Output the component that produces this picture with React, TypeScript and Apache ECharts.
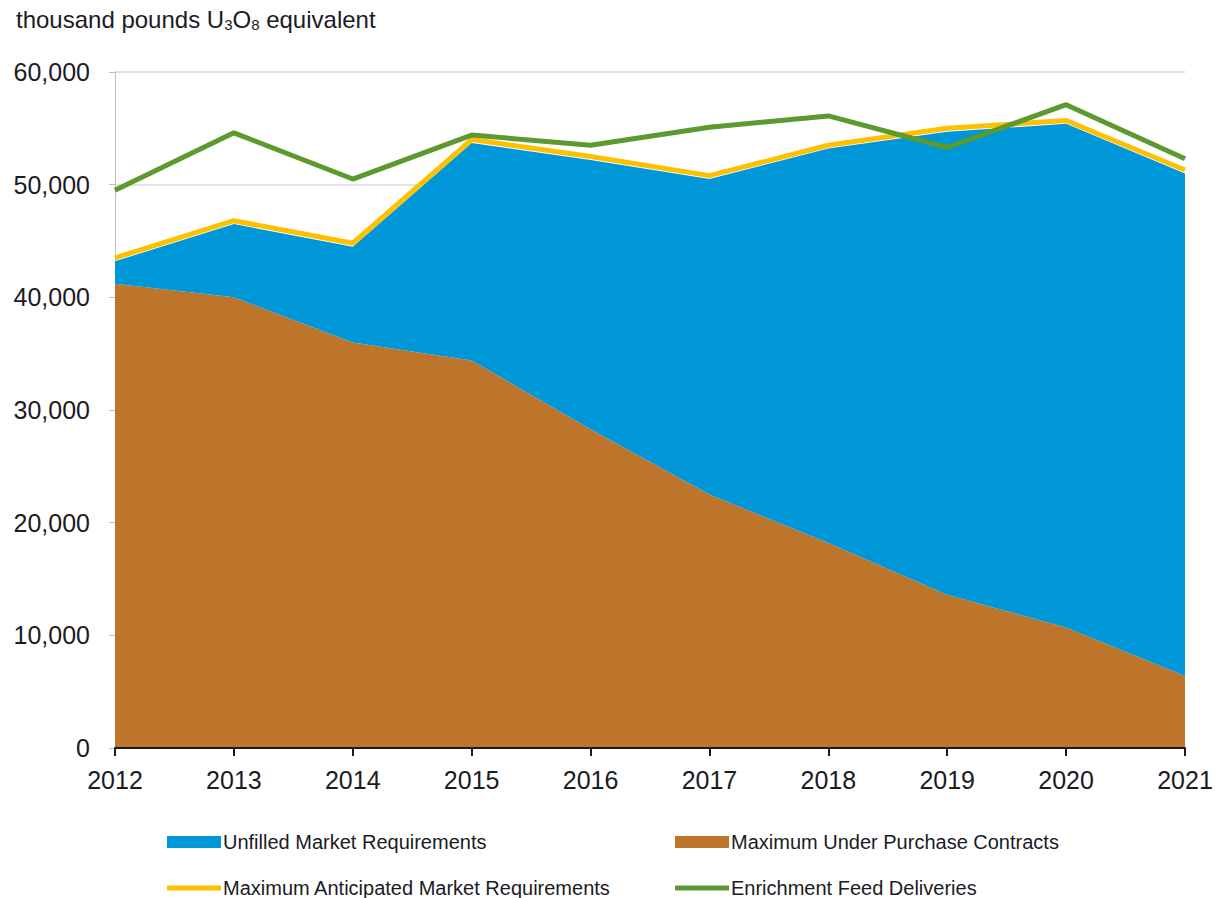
import React, { useEffect, useRef } from "react";
import * as echarts from "echarts";

const years = ["2012", "2013", "2014", "2015", "2016", "2017", "2018", "2019", "2020", "2021"];
const maxUnderPurchase = [41200, 40000, 36000, 34400, 28300, 22500, 18200, 13600, 10700, 6400];
const unfilled = [2000, 6500, 8500, 19300, 23900, 28000, 35000, 41100, 44700, 44600];
const maxAnticipated = [43500, 46800, 44800, 54000, 52500, 50800, 53500, 55000, 55700, 51300];
const enrichmentFeed = [49500, 54600, 50500, 54400, 53500, 55100, 56100, 53300, 57100, 52300];
const yTicks = { min: 0, max: 60000, interval: 10000 };

const BLUE = "#0097D9";
const BROWN = "#BD742B";
const YELLOW = "#FFC000";
const GREEN = "#5C9A30";
const FONT = "Liberation Sans, Arial, sans-serif";
const TEXT = "#1b1b24";

export default function App() {
  const ref = useRef<HTMLDivElement>(null);
  useEffect(() => {
    if (!ref.current) return;
    const chart = echarts.init(ref.current, undefined, { renderer: "svg" });
    const areaIcon = "path://M0,0h54v12h-54z";
    const lineIcon = "path://M0,0h54v5h-54z";
    const legendText = { fontFamily: FONT, fontSize: 20, color: TEXT, lineHeight: 14, padding: [0, 0, 0, -3] };
    const mkLegend = (name: string, icon: string, left: number, top: number) => ({
      left,
      top,
      padding: 0,
      itemWidth: 54,
      itemHeight: 12,
      textStyle: legendText,
      data: [{ name, icon }],
    });
    chart.setOption({
      animation: false,
      backgroundColor: "#ffffff",
      textStyle: { fontFamily: FONT },
      title: {
        left: 11,
        top: 2,
        text: "thousand pounds U{sub|3}O{sub|8} equivalent",
        textStyle: {
          fontFamily: FONT,
          fontSize: 24,
          fontWeight: "normal",
          color: TEXT,
          rich: {
            sub: { fontFamily: FONT, fontSize: 15, color: TEXT, verticalAlign: "bottom", padding: [10, 0, 0, 0] },
          },
        },
      },
      grid: { left: 115, right: 34, top: 72, bottom: 150, containLabel: false },
      legend: [
        mkLegend("Unfilled Market Requirements", areaIcon, 167, 832),
        mkLegend("Maximum Under Purchase Contracts", areaIcon, 675, 832),
        mkLegend("Maximum Anticipated Market Requirements", lineIcon, 167, 878),
        mkLegend("Enrichment Feed Deliveries", lineIcon, 675, 878),
      ],
      xAxis: {
        type: "category",
        data: years,
        boundaryGap: false,
        axisLine: { lineStyle: { color: "#1a1a1a", width: 2 } },
        axisTick: { show: true, length: 8, lineStyle: { color: "#1a1a1a", width: 2 } },
        axisLabel: { fontFamily: FONT, fontSize: 25, color: TEXT, margin: 19 },
        splitLine: { show: false },
        z: 10,
      },
      yAxis: {
        type: "value",
        min: yTicks.min,
        max: yTicks.max,
        interval: yTicks.interval,
        axisLine: { show: true, lineStyle: { color: "#bfbfbf", width: 1 } },
        axisTick: { show: true, length: 6, lineStyle: { color: "#bfbfbf" } },
        axisLabel: {
          fontFamily: FONT,
          fontSize: 25,
          color: TEXT,
          margin: 25,
          formatter: (v: number) => v.toLocaleString("en-US"),
        },
        splitLine: { show: true, lineStyle: { color: "#d9d9d9", width: 1.5 } },
      },
      series: [
        {
          name: "Maximum Under Purchase Contracts",
          type: "line",
          stack: "req",
          data: maxUnderPurchase,
          symbol: "none",
          lineStyle: { width: 0 },
          itemStyle: { color: BROWN },
          areaStyle: { color: BROWN, opacity: 1 },
          z: 2,
        },
        {
          name: "Unfilled Market Requirements",
          type: "line",
          stack: "req",
          data: unfilled,
          symbol: "none",
          lineStyle: { width: 0 },
          itemStyle: { color: BLUE },
          areaStyle: { color: BLUE, opacity: 1 },
          z: 2,
        },
        {
          name: "Maximum Anticipated Market Requirements",
          type: "line",
          data: maxAnticipated,
          symbol: "none",
          lineStyle: { width: 5, color: YELLOW },
          itemStyle: { color: YELLOW },
          z: 3,
        },
        {
          name: "Enrichment Feed Deliveries",
          type: "line",
          data: enrichmentFeed,
          symbol: "none",
          lineStyle: { width: 5, color: GREEN },
          itemStyle: { color: GREEN },
          z: 4,
        },
      ],
    });
    return () => chart.dispose();
  }, []);
  return (
    <div
      ref={ref}
      style={{ position: "absolute", left: 0, top: 0, width: 1219, height: 898, background: "#fff" }}
    />
  );
}
